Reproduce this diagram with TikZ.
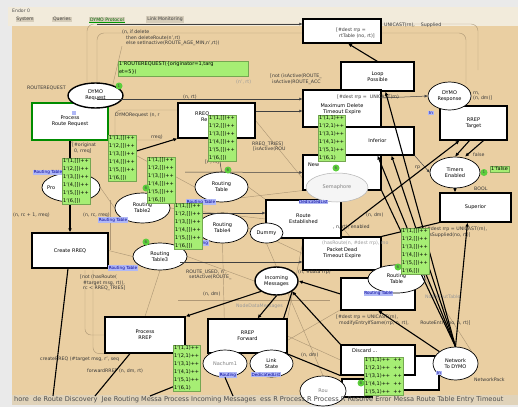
\documentclass[tikz,border=0pt]{standalone}
\usepackage{fontspec}
\setmainfont{DejaVu Sans}
\usetikzlibrary{shapes.geometric,arrows.meta}
\definecolor{winbg}{RGB}{234,234,234}
\definecolor{hdrbg}{RGB}{242,235,219}
\definecolor{tabbg}{RGB}{214,205,186}
\definecolor{canvasbg}{RGB}{234,207,162}
\definecolor{barbg}{RGB}{224,211,186}
\definecolor{tokgreen}{RGB}{166,238,116}
\definecolor{tokcirc}{RGB}{92,206,60}
\definecolor{bluebg}{RGB}{176,184,246}
\definecolor{faintc}{RGB}{150,130,100}
\pgfdeclarelayer{back}
\pgfdeclarelayer{mid}
\pgfsetlayers{back,mid,main}
\tikzset{
  trans/.style={draw=black, line width=1.1pt, fill=white, align=center, inner sep=1pt, font=\fontsize{5}{6}\selectfont},
  place/.style={ellipse, draw=black, line width=0.7pt, fill=white, align=center, inner sep=0pt, font=\fontsize{5}{6}\selectfont},
  bplace/.style={place, line width=1.4pt},
  gplace/.style={ellipse, draw=gray!60, line width=0.5pt, fill=white!92!gray, text=gray, align=center, inner sep=0pt, font=\fontsize{5}{6}\selectfont},
  tok/.style={fill=tokgreen, draw=tokgreen!70!black, line width=0.3pt, inner sep=1pt, align=left, anchor=north west, font=\fontsize{5}{7.9}\selectfont},
  tokc/.style={circle, fill=tokcirc, inner sep=0pt, minimum size=7pt, text=black!70, font=\fontsize{4}{4}\selectfont},
  blbl/.style={fill=bluebg, text=blue!60!black, inner sep=0.6pt, font=\fontsize{4.2}{5}\selectfont},
  insc/.style={text=black!78, align=left, inner sep=0pt, anchor=west, font=\fontsize{4.7}{5.6}\selectfont},
  finsc/.style={insc, text=black!40},
  ntxt/.style={insc, text=black, font=\fontsize{5}{6}\selectfont},
  tabx/.style={fill=tabbg, inner sep=0.8pt, text=black!75, font=\fontsize{4.6}{5}\selectfont},
  arc/.style={line width=1.1pt, -{Latex[length=4pt,width=3.6pt]}},
  plainarc/.style={line width=1.1pt},
  tarc/.style={line width=0.5pt, draw=black!75, -{Latex[length=3pt,width=3pt]}},
  faint/.style={line width=0.45pt, draw=faintc, opacity=0.7},
}
\begin{document}
\begin{tikzpicture}[x=1pt,y=-1pt]
\useasboundingbox (0,0) rectangle (518,407);
\begin{pgfonlayer}{back}
\fill[winbg] (0,0) rectangle (518,407);
\fill[hdrbg] (8,7) rectangle (518,26);
\fill[canvasbg] (12,26) rectangle (518,395);
\fill[barbg] (12,395) rectangle (518,405);
\end{pgfonlayer}
% header
\node[insc, text=black!70, font=\fontsize{4.6}{5}\selectfont] (title) at (12,11) {Endor 0};
\node[tabx] (tsys) at (25,19.5) {System};
\node[tabx] (tque) at (62,19.5) {Queries};
\node[tabx, text=green!40!black] (tdymo) at (107,19.5) {DYMO Protocol};
\node[tabx] (tlink) at (165,19.5) {Link Monitoring};
\draw[green!60!black, line width=0.6pt] (tdymo.south west) -- (tdymo.south east);

% transitions
\node[trans, draw=green!55!black, minimum width=76pt, minimum height=37pt] (procRR) at (70,121.5) {Process\\Route Request};
\node[trans, minimum width=77pt, minimum height=35pt] (rreqRetry) at (216.5,120.5) {};
\node[ntxt] (rreqtxt) at (195,117) {RREQ\_\\\hspace{6pt}Re};
\node[trans, minimum width=78pt, minimum height=24pt] (timeoutTop) at (342,31) {};
\node[trans, minimum width=73pt, minimum height=29pt] (loop) at (377.5,76.5) {Loop\\Possible};
\node[trans, minimum width=78pt, minimum height=37pt] (maxDel) at (342,108.5) {\\Maximum Delete\\Timeout Expire};
\node[trans, minimum width=67pt, minimum height=34pt] (rrepTarget) at (473.5,123) {RREP\\Target};
\node[trans, minimum width=78pt, minimum height=35pt] (newT) at (342,172.5) {};
\node[ntxt] (newtxt) at (308,165) {New};
\node[trans, minimum width=73pt, minimum height=28pt] (inferior) at (377.5,141) {Inferior};
\node[trans, minimum width=71pt, minimum height=29pt] (superior) at (475.5,207.5) {Superior};
\node[trans, minimum width=78pt, minimum height=33pt] (deadT) at (342,253.5) {Packet\,Dead\\Timeout Expire};
\node[trans, minimum width=75pt, minimum height=38pt] (routeEst) at (303.5,219) {Route\\Established};
\node[trans, minimum width=74pt, minimum height=32pt] (rtBox) at (378,294) {};
\node[trans, minimum width=36pt, minimum height=34pt] (discardB) at (421,373) {};
\node[trans, minimum width=74pt, minimum height=30pt] (discard) at (378,360) {};
\node[ntxt] (disctxt) at (352,351) {Discard ...};
\node[trans, minimum width=80pt, minimum height=36pt] (procRREP) at (145,335) {Process\\RREP};
\node[trans, minimum width=79pt, minimum height=34pt] (rrepFwd) at (247.5,336) {RREP\\Forward};
\node[trans, minimum width=76pt, minimum height=35pt] (createRREQ) at (70,250.5) {Create RREQ};
\node[trans, minimum width=30pt, minimum height=18pt] (paBox) at (357,388) {};

% places
\node[bplace, minimum width=55pt, minimum height=25pt] (dymoReq) at (95.5,95.5) {DYMO\\Request};
\node[place, minimum width=43pt, minimum height=28pt] (dymoResp) at (449.5,96) {DYMO\\Response};
\node[place, minimum width=50pt, minimum height=31pt] (timersEn) at (455,172.5) {Timers\\Enabled};
\node[place, minimum width=58pt, minimum height=29pt] (proP) at (71,187.5) {};
\node[ntxt] (protxt) at (47,187.5) {Pro};
\node[place, minimum width=53pt, minimum height=30pt] (rtA) at (221.5,187) {Routing\\Table};
\node[place, minimum width=55pt, minimum height=30pt] (rt2) at (142.5,208) {Routing\\Table2};
\node[place, minimum width=51pt, minimum height=30pt] (rt4) at (222.5,228) {Routing\\Table4};
\node[place, minimum width=54pt, minimum height=27pt] (rt3) at (160,256.5) {Routing\\Table3};
\node[gplace, minimum width=62pt, minimum height=29pt] (sema) at (337,187.5) {Semaphore};
\node[place, minimum width=33pt, minimum height=20pt] (dummy) at (266.5,233) {Dummy};
\node[place, minimum width=57pt, minimum height=28pt] (rtP) at (396.5,279) {Routing\\Table};
\node[bplace, minimum width=43pt, minimum height=28pt] (incoming) at (276.5,281) {Incoming\\Messages};
\node[place, minimum width=45pt, minimum height=33pt] (net2dymo) at (455.5,363.5) {Network\\To DYMO};
\node[place, minimum width=44pt, minimum height=27pt] (nachum) at (225,363.5) {\textcolor{gray}{Nachum1}};
\node[place, minimum width=43pt, minimum height=27pt] (linkState) at (271.5,363.5) {Link\\State};
\node[place, minimum width=46pt, minimum height=30pt] (rtBottom) at (323,391) {\textcolor{gray}{Rou}};

% blue labels
\node[blbl] (bl1) at (74,113) {\phantom{P}};
\node[blbl] (bl2) at (48,172.5) {Routing Table};
\node[blbl] (bl3) at (113,220) {Routing Table};
\node[blbl] (bl4) at (201,202) {Routing Table};
\node[blbl] (bl5) at (123,268) {Routing Table};
\node[blbl] (bl6) at (200,243) {Routing};
\node[blbl] (bl7) at (313.5,202) {DedicatedList};
\node[blbl] (bl8) at (378.5,293.5) {Routing Table};
\node[blbl] (bl9) at (228,375) {Routing};
\node[blbl] (bl10) at (266,374.5) {DedicatedList};
\node[blbl] (bl11) at (431,113) {In};
\node[blbl] (bl12) at (439,373) {In};

% inscriptions
\node[insc] (i1) at (122,38) {(n, if delete\\\hspace{4pt}then deleteRoute(n',rt)\\\hspace{4pt}else setInactive(ROUTE\_AGE\_MIN,n',rt))};
\node[insc] (i2) at (27,88) {ROUTEREQUEST};
\node[insc] (i3) at (115,115) {DYMORequest (n, r};
\node[insc] (i4) at (183,97) {(n, rt)};
\node[finsc] (i5) at (236,82) {(n', rt)};
\node[insc] (i6) at (270,79.5) {[not (isActive(ROUTE\_\\\hspace{2pt}isActive(ROUTE\_ACC};
\node[insc] (i7) at (336,33) {[\#dest rrp =\\\hspace{3pt}rtTable (no, rt)]};
\node[insc] (i8) at (384,25) {UNICAST(rn),\hspace{6pt}Supplied};
\node[insc] (i9) at (337,97) {[\#dest rrp =\hspace{3pt}UNICAST(rn)};
\node[insc] (i10) at (473,96) {rn,\\(n, dm)]};
\node[insc] (i11) at (473,155) {false};
\node[insc] (i12) at (474,189) {BOOL};
\node[insc] (i13) at (425,232) {[\#dest rrp = UNICAST(rn),\\\hspace{3pt}isSupplied(no, rt)]};
\node[insc] (i14) at (366,215) {(n, dm)};
\node[insc] (i15) at (333,227.5) {, n, rt), enabled};
\node[finsc] (i16) at (322,243) {(hasRoute(n, \#dest rrp), mo};
\node[insc] (i17) at (298,272) {(n, \#data rrp)};
\node[insc] (i18) at (336,320) {[\#dest rrp = UNICAST(rn),\\\hspace{3pt}modifyEntryIfSame(rrp, n, rt), \hspace{10pt}RouteEntry(no, n, rt)]};
\node[finsc] (i19) at (425,297) {NodeRoutTable};
\node[insc] (i20) at (474,380) {NetworkPack};
\node[insc] (i21) at (301,355) {(n, dm)};
\node[insc] (i22) at (203,294) {(n, dm)};
\node[insc] (i23) at (186,275) {ROUTE\_USED, n',\\\hspace{3pt}setActive(ROUTE\_};
\node[finsc] (i24) at (236,306) {NodeDataMessages};
\node[insc] (i25) at (80,283) {[not (hasRoute(\\\hspace{3pt}\#target msg, rt)),\\\hspace{3pt}rc < RREQ\_TRIES]};
\node[insc] (i26) at (13,215) {(n, rc + 1, rreq)};
\node[insc] (i27) at (83,215) {(n, rc, rreq)};
\node[insc] (i28) at (72,148) {[\#originat\\\hspace{2pt}0, rreq]};
\node[insc] (i29) at (40,359) {createRREQ (\#target msg, r', seq};
\node[insc] (i30) at (87,371) {forwardRREP (n, dm, rt)};
\node[insc] (i31) at (252,146.5) {RREQ\_TRIES]\\\hspace{1pt}[isActive(ROU};
\node[insc] (i32) at (151,137) {rreq)};
\node[insc] (i33) at (205,162) {[r', rt]};
\node[insc] (i34) at (415,168) {rp};
\node[insc, font=\fontsize{6.6}{7}\selectfont, text=black!70] (bar) at (14,400) {hore\ \ de Route Discovery\ \ Jee Routing Messa Process Incoming Messages\ \ ess R Process R Process R Resolve Error Messa Route Table Entry Timeout};

% faint background lines
\begin{pgfonlayer}{mid}
\draw[faint, rounded corners=7pt] (87,120) |- (478,24) -- (478,70);
\draw[faint, rounded corners=7pt] (97,118) |- (466,33) -- (466,84);
\draw[faint, rounded corners=6pt] (115,142) |- (178,110);
\draw[faint, rounded corners=6pt] (70,230) |- (160,140);
\draw[faint] (procRR.south east) -- (rtA.west);
\draw[faint] (rt2.east) -- (routeEst.west);
\draw[faint] (rt4.east) -- (deadT.west);
\draw[faint] (rt3.east) -- (incoming.west);
\draw[faint] (proP.east) -- (rt2.west);
\draw[faint, rounded corners=6pt] (85,270) |- (procRREP.west);
\draw[faint, rounded corners=6pt] (93,270) |- (procRREP.south west);
\draw[faint] (rt3.south) -- (procRREP.north);
\draw[faint] (rtA.south east) -- (newT.south west);
\draw[faint] (rreqRetry.east) -- (rtP.north west);
\draw[faint] (linkState.north) -- (rtP.south west);
\draw[faint] (nachum.north) -- (rt4.south);
\draw[faint] (rtP.east) -- (net2dymo.north east);
\draw[faint] (dummy.south) -- (rtBottom.north);
\draw[faint] (createRREQ.east) -- (rt3.west);
\draw[faint] (i1.south west) -- (procRR.north east);
\draw[faint] (110,200) -- (110,250);
\draw[faint] (178,300) -- (330,300);
\draw[faint] (rrepFwd.east) -- (discard.west);
\draw[faint] (routeEst.south) -- (rrepFwd.north east);
\draw[faint] (rtA.east) -- (routeEst.north west);
\end{pgfonlayer}

% thin arcs
\draw[tarc] (97,24) -- (timeoutTop.west |- 0,24);
\draw[tarc] (97,99) -- (maxDel.west |- 0,99);
\draw[tarc] (rreqRetry.east |- 0,111) -- (maxDel.west |- 0,111);
\draw[tarc] (185,172) -- (newT.west);
\draw[tarc] (180,262) -- (deadT.west |- 0,262);
\draw[tarc] (200,213) -- (routeEst.west |- 0,213);
\draw[tarc] (maxDel.east |- 0,98) -- (dymoResp.west);
\draw[tarc] (inferior.south east) -- (timersEn.west);
\draw[tarc] (rtA.north) -- (rreqRetry.south);

% thick arcs
\coordinate (b1) at (53,396);
\coordinate (b2) at (95,396);
\coordinate (b3) at (150,396);
\coordinate (b4) at (233,396);
\coordinate (c0) at (130,153);
\draw[arc] (procRR.south) -- (createRREQ.north);
\draw[plainarc] ([xshift=-2pt]createRREQ.south) -- (b1);
\draw[plainarc] ([xshift=-15pt]procRREP.south) -- (b2);
\draw[plainarc] (175,386) -- (b3);
\draw[plainarc] (nachum.south) -- (b4);
\draw[arc] (c0) -- (rreqRetry.south west);
\draw[arc] (incoming.south west) -- (procRREP.north east);
\draw[arc] (incoming.south) -- ([xshift=10pt]rrepFwd.north);
\draw[plainarc] (incoming.south east) -- ([xshift=-4pt]rrepFwd.north east);
\draw[arc] (discard.north west) -- (incoming.south east);
\draw[arc] (rtBox.west) -- (incoming.east);
\draw[arc] (net2dymo.north west) -- (rtBox.south);
\draw[arc] (net2dymo.north) -- ([xshift=8pt]loop.south);
\draw[arc] (net2dymo.north) -- (inferior.south);
\draw[arc] (net2dymo.north) -- ([xshift=14pt]inferior.south);
\draw[plainarc] (net2dymo.north) -- (newT.south east);
\draw[arc] (net2dymo.north) -- ([xshift=-8pt]superior.south);
\draw[arc] (loop.north) -- ([xshift=6pt]timeoutTop.south);
\draw[arc] (routeEst.east |- 0,231) -- ([xshift=-14pt]rrepTarget.south);
\draw[plainarc] (deadT.north east) -- (superior.south west);
\draw[arc] ([xshift=-4pt]rrepTarget.south) -- (timersEn.north);
\draw[arc] ([xshift=10pt]rrepTarget.south) -- ([xshift=10pt]timersEn.north);
\draw[arc] (timersEn.south) -- (superior.north -| timersEn.south);
\draw[plainarc] (linkState.north east) -- (discard.south west);

% tokens
\node[tok, text width=128pt] (t1) at (118,61) {1`ROUTEREQUEST(\{originator=1,targ\\et=5\})};
\node[tok] (t2) at (208,115) {1`(1,[])++\\1`(2,[])++\\1`(3,[])++\\1`(4,[])++\\1`(5,[])++\\1`(6,[])};
\node[tok] (t3) at (108,135) {1`(1,[])++\\1`(2,[])++\\1`(3,[])++\\1`(4,[])++\\1`(5,[])++\\1`(6,[])};
\node[tok] (t4) at (62,158) {1`(1,[])++\\1`(2,[])++\\1`(3,[])++\\1`(4,[])++\\1`(5,[])++\\1`(6,[])};
\node[tok] (t5) at (147,157) {1`(1,[])++\\1`(2,[])++\\1`(3,[])++\\1`(4,[])++\\1`(5,[])++\\1`(6,[])};
\node[tok] (t6) at (174,203) {1`(1,[])++\\1`(2,[])++\\1`(3,[])++\\1`(4,[])++\\1`(5,[])++\\1`(6,[])};
\node[tok] (t7) at (318,115) {1`(1,1)++\\1`(2,1)++\\1`(3,1)++\\1`(4,1)++\\1`(5,1)++\\1`(6,1)};
\node[tok] (t8) at (401,228) {1`(1,[])++\\1`(2,[])++\\1`(3,[])++\\1`(4,[])++\\1`(5,[])++\\1`(6,[])};
\node[tok] (t9) at (173,345) {1`(1,1)++\\1`(2,1)++\\1`(3,1)++\\1`(4,1)++\\1`(5,1)++\\1`(6,1)};
\node[tok] (t10) at (364,357) {1`(1,1)++\ \ ++\\1`(2,1)++\ \ ++\\1`(3,1)++\ \ ++\\1`(4,1)++\ \ ++\\1`(5,1)++\ \ ++};
\node[tok] (t11) at (490,166) {1`false};

% token counters
\node[tokc] (k1) at (119,86) {1};
\node[tokc] (k2) at (228,170) {6};
\node[tokc] (k3) at (336,168) {6};
\node[tokc] (k4) at (484,172.5) {1};
\node[tokc] (k5) at (146,242) {6};
\node[tokc] (k6) at (146,188) {6};
\node[tokc] (k7) at (398,267) {6};
\node[tokc] (k8) at (361,383) {6};
\end{tikzpicture}
\end{document}
